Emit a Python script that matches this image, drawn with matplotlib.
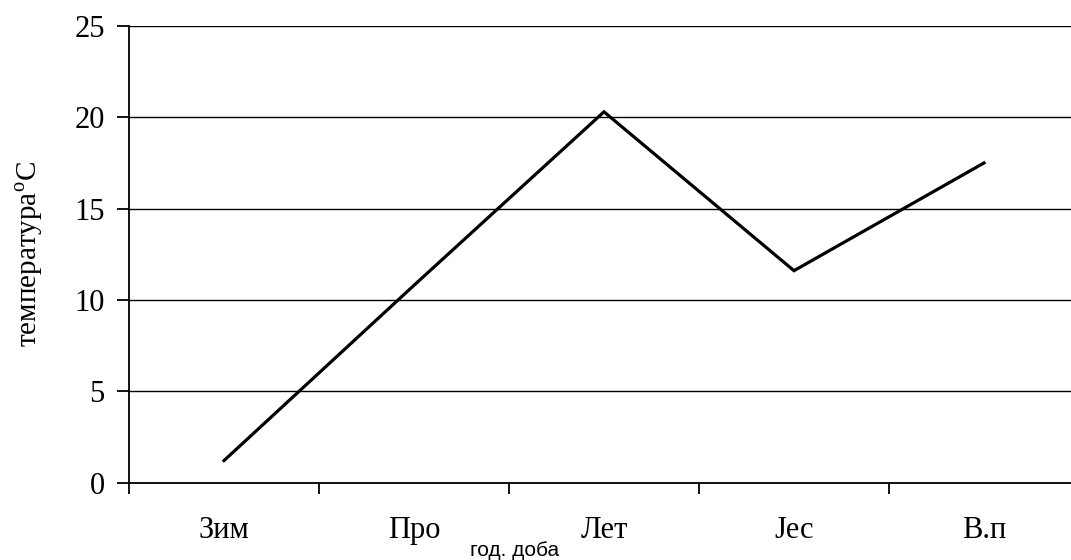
import numpy as np
import matplotlib
matplotlib.use("Agg")
from matplotlib import pyplot as plt
from matplotlib.ticker import FixedLocator

seasons = ["Зим", "Про", "Лет", "Јес", "В.п"]
temps = [1.2, 10.8, 20.3, 11.6, 17.5]
yticks = [0, 5, 10, 15, 20, 25]

serif = ["Liberation Serif", "DejaVu Serif"]
plt.rcParams["mathtext.fontset"] = "custom"
plt.rcParams["mathtext.rm"] = "Liberation Serif"

fig = plt.figure(figsize=(10.71, 5.6), dpi=100)
ax = fig.add_axes([129/1071, 77.5/560, 950/1071, 456.5/560])

x = np.arange(len(seasons))
ax.plot(x, temps, color="black", lw=2.3, solid_joinstyle="miter", zorder=3)

ax.set_xlim(-0.5, len(seasons) - 0.5)
ax.set_ylim(0, 25)
ax.set_yticks(yticks)
ax.set_yticklabels([str(v) for v in yticks], fontfamily=serif, fontsize=22)
ax.set_xticks(x)
ax.set_xticklabels(seasons, fontfamily=serif, fontsize=22)
ax.xaxis.set_minor_locator(FixedLocator(np.arange(len(seasons) + 1) - 0.5))
ax.tick_params(axis="x", which="major", length=0, pad=24)
ax.tick_params(axis="x", which="minor", length=8, width=1.3, direction="out", color="black")
ax.tick_params(axis="y", length=8.5, width=1.3, direction="out", pad=9, color="black")

ax.grid(axis="y", color="black", lw=1.0, zorder=1)
for s in ["top", "right"]:
    ax.spines[s].set_visible(False)
for s in ["left", "bottom"]:
    ax.spines[s].set_linewidth(1.3)
    ax.spines[s].set_zorder(4)

ax.set_ylabel("температура$^{\\mathrm{o}}$С", fontfamily=serif, fontsize=21, labelpad=21)
fig.text(515/1071, 1 - 550/560, "год. доба", fontfamily=["Liberation Sans", "DejaVu Sans"],
         fontsize=15, ha="center", va="center")

fig.savefig("out.png", dpi=100)
